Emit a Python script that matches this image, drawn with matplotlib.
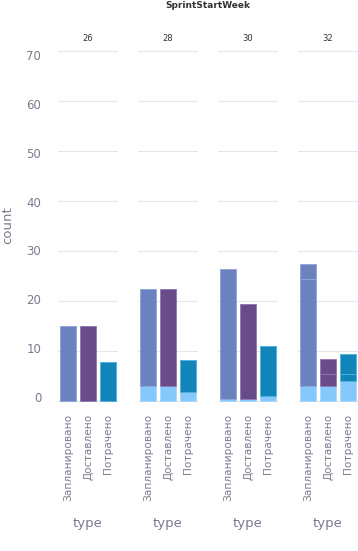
import numpy as np
import matplotlib.pyplot as plt

weeks = ["26", "28", "30", "32"]
types = ["Запланировано", "Доставлено", "Потрачено"]

# light blue bottom part per week (one value per type)
base = [[0, 0, 0], [3, 3, 1.8], [0.5, 0.4, 1.1], [3, 3, 4]]
# coloured parts stacked on top
part1 = [[15, 15, 7.75], [19.5, 19.5, 6.4], [26, 19.1, 10], [21.5, 2.5, 1.5]]
part2 = [[0, 0, 0], [0, 0, 0], [0, 0, 0], [3, 3, 4]]
yticks = np.arange(0, 71, 10)

type_colors = ["#6a82bd", "#684c8a", "#1185ba"]
edge_colors = ["#93a3d6", "#9477b0", "#4fb2de"]
light_color = "#84c8fc"
text_col = "#7b7b8e"
grid_col = "#e6e6ee"

W, H = 358, 551
fig = plt.figure(figsize=(W / 100, H / 100), dpi=100)
fig.patch.set_facecolor("white")

lefts = [58, 138, 218, 298]
x = np.arange(len(types))
for k, wk in enumerate(weeks):
    ax = fig.add_axes([lefts[k] / W, 1 - 403 / H, 60 / W, 357 / H])
    ax.set_xlim(-0.5, 2.5)
    ax.set_ylim(-0.4, 71)
    ax.bar(x, base[k], width=0.8, bottom=0, color=light_color,
           edgecolor="#a8d8fd", linewidth=0.6, zorder=3)
    b1 = np.array(base[k])
    ax.bar(x, part1[k], width=0.8, bottom=b1, color=type_colors,
           edgecolor=edge_colors, linewidth=0.6, zorder=3)
    b2 = b1 + np.array(part1[k])
    ax.bar(x, part2[k], width=0.8, bottom=b2, color=type_colors,
           edgecolor=edge_colors, linewidth=0.6, zorder=3)
    for s in ax.spines.values():
        s.set_visible(False)
    ax.set_yticks(yticks)
    ax.set_yticklabels([])
    ax.yaxis.grid(True, color=grid_col, linewidth=0.8, zorder=0)
    ax.tick_params(axis="both", length=0, colors=text_col)
    ax.set_xticks(x)
    ax.set_xticklabels(types, rotation=90, fontsize=7.6, color=text_col)
    ax.tick_params(axis="x", pad=8)
    ax.set_xlabel("type", fontsize=9.5, color=text_col, labelpad=11)
    ax.set_title(wk, fontsize=6, color="#333333", pad=3.5)

# tick labels of the y axis sit on a slightly squeezed scale (as in the original)
lab = fig.add_axes([58 / W, 1 - 397 / H, 60 / W, 342 / H])
lab.set_ylim(0, 70)
lab.set_yticks(yticks)
lab.set_xticks([])
lab.patch.set_visible(False)
for s in lab.spines.values():
    s.set_visible(False)
lab.tick_params(axis="y", length=0, labelsize=8.5, pad=12, colors=text_col)
fig.text(8 / W, 1 - 225 / H, "count", rotation=90, fontsize=9.5,
         color=text_col, ha="center", va="center")

fig.text(208 / W, 1 - 6 / H, "SprintStartWeek", fontsize=6.5, fontweight="bold",
         color="#333333", ha="center", va="center")

fig.savefig("out.png", dpi=100, facecolor="white")
